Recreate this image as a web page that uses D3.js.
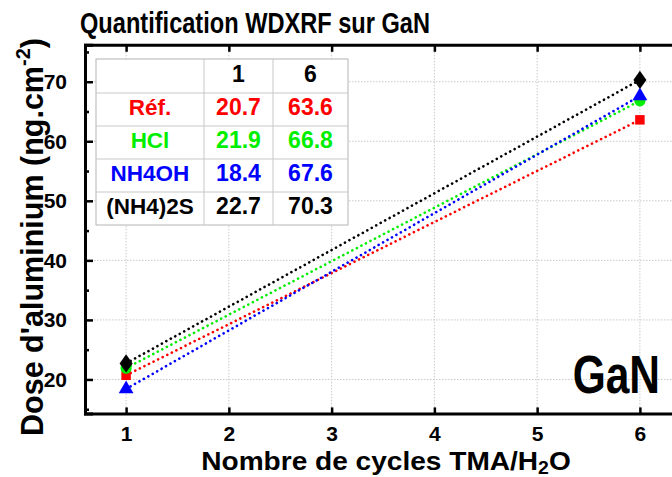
<!DOCTYPE html>
<html>
<head>
<meta charset="utf-8">
<script src="https://cdn.jsdelivr.net/npm/d3@7"></script>
<style>
  html, body { margin: 0; padding: 0; background: #fff; }
  svg { display: block; }
  text { font-family: "Liberation Sans", Arial, sans-serif; font-weight: bold; }
</style>
</head>
<body>
<svg id="chart" width="672" height="477"></svg>
<script>
// ALD cycles (TMA/H2O) and measured aluminium dose per surface treatment
const cycles = [1, 6];
const seriesNames = ["Réf.", "HCl", "NH4OH", "(NH4)2S"];
const refValues = [20.7, 63.6];
const hclValues = [21.9, 66.8];
const nh4ohValues = [18.4, 67.6];
const nh42sValues = [22.7, 70.3];
const seriesColors = ["#ff0000", "#00ee00", "#0000ff", "#000000"];
const seriesSymbols = ["square", "circle", "triangle", "diamond"];
const xTicks = [1, 2, 3, 4, 5, 6];
const yTicks = [20, 30, 40, 50, 60, 70];
const yMinorTicks = [15, 25, 35, 45, 55, 65, 75];

const series = seriesNames.map((name, i) => ({
  name,
  values: [refValues, hclValues, nh4ohValues, nh42sValues][i],
  color: seriesColors[i],
  symbol: seriesSymbols[i]
}));

const svg = d3.select("#chart");
const x = d3.scaleLinear().domain([0.6, 6.4]).range([85, 681]);
const y = d3.scaleLinear().domain([14.3, 76.2]).range([413.4, 44.8]);

// text drawn with a stretch around its anchor point
function stretchedText(parent, px, py, str, size, sx, sy, anchor) {
  const g = parent.append("g").attr("transform", `translate(${px},${py}) scale(${sx},${sy})`);
  return g.append("text").attr("text-anchor", anchor || "start").attr("font-size", size).text(str);
}

// grid
const grid = svg.append("g").attr("stroke", "#c8c8c8").attr("stroke-width", 1)
  .attr("stroke-dasharray", "1.5,1.5");
grid.selectAll("line.gx").data(xTicks).join("line")
  .attr("x1", d => x(d)).attr("x2", d => x(d))
  .attr("y1", y.range()[0]).attr("y2", y.range()[1]);
grid.selectAll("line.gy").data(yTicks).join("line")
  .attr("x1", x.range()[0]).attr("x2", x.range()[1])
  .attr("y1", d => y(d)).attr("y2", d => y(d));

// dotted lines joining the two measurements
const line = d3.line().x((d, i) => x(cycles[i])).y(d => y(d));
svg.append("g").selectAll("path").data(series).join("path")
  .attr("d", d => line(d.values))
  .attr("fill", "none")
  .attr("stroke", d => d.color)
  .attr("stroke-width", 2.6)
  .attr("stroke-linecap", "round")
  .attr("stroke-dasharray", "0.1,5");

// markers
const symbolType = {
  square: d3.symbolSquare, circle: d3.symbolCircle,
  triangle: d3.symbolTriangle, diamond: d3.symbolDiamond
};
const symbolSize = { square: 90, circle: 100, triangle: 95, diamond: 95 };
series.forEach(s => {
  svg.append("g").selectAll("path").data(s.values).join("path")
    .attr("transform", (d, i) => `translate(${x(cycles[i])},${y(d)})${s.symbol === "diamond" ? " scale(1.25,1)" : ""}`)
    .attr("d", d3.symbol(symbolType[s.symbol], symbolSize[s.symbol]))
    .attr("fill", s.color);
});

// axes
const axisG = svg.append("g");
const axBottom = axisG.append("g").attr("transform", `translate(0,${y.range()[0]})`)
  .call(d3.axisBottom(x).tickValues(xTicks).tickSize(-6).tickFormat(d3.format("d")).tickPadding(13));
const axTop = axisG.append("g").attr("transform", `translate(0,${y.range()[1]})`)
  .call(d3.axisTop(x).tickValues(xTicks).tickSize(-7).tickFormat(""));
const axLeft = axisG.append("g").attr("transform", `translate(${x.range()[0]},0)`)
  .call(d3.axisLeft(y).tickValues(yTicks).tickSize(-8).tickFormat(d3.format("d")).tickPadding(18));
const axLeftMinor = axisG.append("g").attr("transform", `translate(${x.range()[0]},0)`)
  .call(d3.axisLeft(y).tickValues(yMinorTicks).tickSize(-4).tickFormat(""));
[axBottom, axTop, axLeft, axLeftMinor].forEach(g => {
  g.select(".domain").attr("stroke", "#000").attr("stroke-width", 3);
  g.selectAll(".tick line").attr("stroke", "#000").attr("stroke-width", 2.5);
  g.selectAll(".tick text").attr("fill", "#000").attr("font-size", 21)
    .style("font-family", "'Liberation Sans', Arial, sans-serif").style("font-weight", "bold");
});
axLeftMinor.select(".domain").remove();

// title
stretchedText(svg, 80, 33, "Quantification WDXRF sur GaN", 23.6, 1, 1.24);

// axis titles
const xlG = svg.append("g").attr("transform", "translate(386,470) scale(1.08,1)");
const xl = xlG.append("text").attr("text-anchor", "middle").attr("font-size", 26);
xl.append("tspan").text("Nombre de cycles TMA/H");
xl.append("tspan").attr("font-size", 18).attr("dy", 4).text("2");
xl.append("tspan").attr("dy", -4).text("O");

const yl = svg.append("text").attr("transform", "translate(43,237) rotate(-90)")
  .attr("text-anchor", "middle").attr("font-size", 30.5);
yl.append("tspan").text("Dose d'aluminium (ng.cm");
yl.append("tspan").attr("font-size", 20).attr("dy", -13).text("-2");
yl.append("tspan").attr("dy", 13).text(")");

// sample label
stretchedText(svg, 660, 393, "GaN", 42.5, 1, 1.26, "end");

// values table
const colEdges = [96, 204, 273, 348];
const rowEdges = [59, 93, 126, 159, 192, 225];
const tbl = svg.append("g");
tbl.append("rect").attr("x", colEdges[0]).attr("y", rowEdges[0])
  .attr("width", colEdges[3] - colEdges[0]).attr("height", rowEdges[5] - rowEdges[0])
  .attr("fill", "#fff").attr("stroke", "#b4b4b4").attr("stroke-width", 1);
tbl.selectAll("line.c").data(colEdges.slice(1, 3)).join("line")
  .attr("x1", d => d).attr("x2", d => d).attr("y1", rowEdges[0]).attr("y2", rowEdges[5])
  .attr("stroke", "#c8c8c8");
tbl.selectAll("line.r").data(rowEdges.slice(1, 5)).join("line")
  .attr("x1", colEdges[0]).attr("x2", colEdges[3]).attr("y1", d => d).attr("y2", d => d)
  .attr("stroke", "#c8c8c8");
const cx = i => (colEdges[i] + colEdges[i + 1]) / 2;
const cy = j => (rowEdges[j] + rowEdges[j + 1]) / 2 + 5.5;
cycles.forEach((c, i) => {
  tbl.append("text").attr("x", cx(i + 1)).attr("y", cy(0)).attr("text-anchor", "middle")
    .attr("font-size", 23).attr("fill", "#000").text(c);
});
series.forEach((s, j) => {
  tbl.append("text").attr("x", cx(0)).attr("y", cy(j + 1)).attr("text-anchor", "middle")
    .attr("font-size", 22.5).attr("fill", s.color).text(s.name);
  s.values.forEach((v, i) => {
    tbl.append("text").attr("x", cx(i + 1)).attr("y", cy(j + 1)).attr("text-anchor", "middle")
      .attr("font-size", 23).attr("fill", s.color).text(v.toFixed(1));
  });
});
</script>
</body>
</html>
